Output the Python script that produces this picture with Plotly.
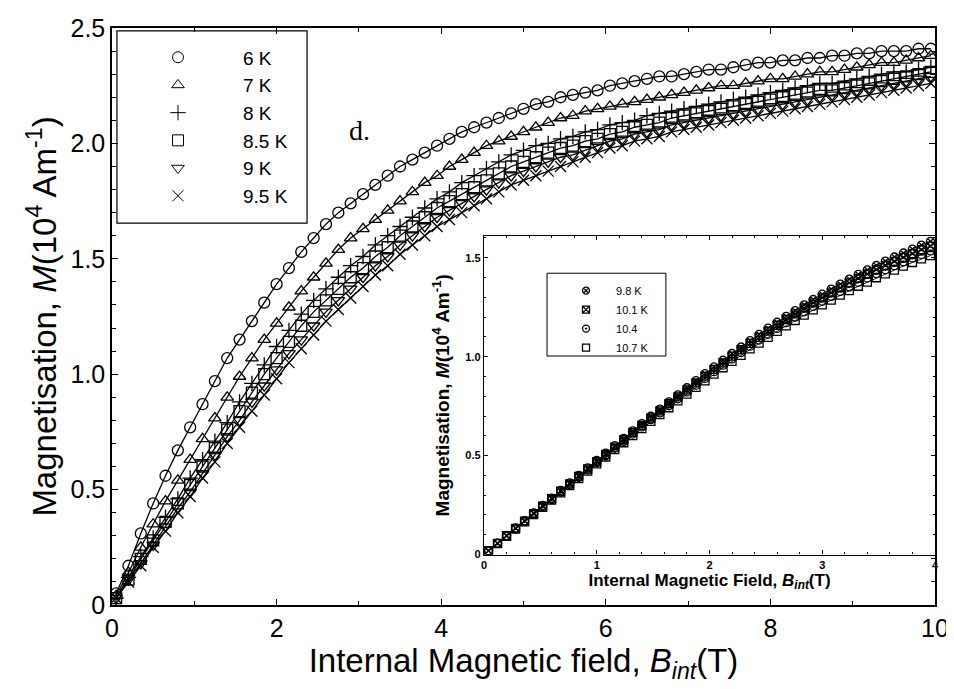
import plotly.graph_objects as go

# ---------------- main panel data ----------------
B_main = [0.05, 0.20, 0.35, 0.50, 0.65, 0.80, 0.95, 1.10, 1.25, 1.40,
          1.55, 1.70, 1.85, 2.00, 2.15, 2.30, 2.45, 2.60, 2.75, 2.90,
          3.05, 3.20, 3.35, 3.50, 3.65, 3.80, 3.95, 4.10, 4.25, 4.40,
          4.55, 4.70, 4.85, 5.00, 5.15, 5.30, 5.45, 5.60, 5.75, 5.90,
          6.05, 6.20, 6.35, 6.50, 6.65, 6.80, 6.95, 7.10, 7.25, 7.40,
          7.55, 7.70, 7.85, 8.00, 8.15, 8.30, 8.45, 8.60, 8.75, 8.90,
          9.05, 9.20, 9.35, 9.50, 9.65, 9.80, 9.95]

M_6K = [0.05, 0.17, 0.31, 0.44, 0.56, 0.67, 0.77, 0.87, 0.97, 1.07,
        1.15, 1.23, 1.31, 1.39, 1.46, 1.53, 1.59, 1.65, 1.70, 1.74,
        1.78, 1.82, 1.86, 1.90, 1.93, 1.96, 1.99, 2.02, 2.05, 2.07,
        2.09, 2.11, 2.13, 2.15, 2.17, 2.18, 2.20, 2.21, 2.22, 2.23,
        2.25, 2.26, 2.27, 2.28, 2.29, 2.29, 2.30, 2.31, 2.32, 2.32,
        2.33, 2.34, 2.35, 2.35, 2.36, 2.36, 2.37, 2.37, 2.38, 2.38,
        2.39, 2.39, 2.40, 2.40, 2.40, 2.41, 2.41]

M_7K = [0.04, 0.14, 0.25, 0.35, 0.45, 0.54, 0.63, 0.72, 0.81, 0.90,
        0.99, 1.07, 1.15, 1.22, 1.29, 1.36, 1.42, 1.48, 1.54, 1.59,
        1.63, 1.67, 1.71, 1.75, 1.79, 1.83, 1.86, 1.90, 1.93, 1.96,
        1.99, 2.01, 2.03, 2.05, 2.07, 2.09, 2.11, 2.12, 2.14, 2.15,
        2.16, 2.17, 2.18, 2.19, 2.20, 2.21, 2.22, 2.23, 2.24, 2.25,
        2.25, 2.26, 2.27, 2.28, 2.28, 2.29, 2.30, 2.31, 2.31, 2.32,
        2.33, 2.34, 2.35, 2.35, 2.36, 2.37, 2.38]

M_8K = [0.03, 0.12, 0.21, 0.29, 0.38, 0.46, 0.55, 0.63, 0.71, 0.79,
        0.88, 0.96, 1.04, 1.12, 1.19, 1.26, 1.32, 1.37, 1.42, 1.47,
        1.51, 1.56, 1.60, 1.64, 1.68, 1.72, 1.76, 1.79, 1.83, 1.86,
        1.89, 1.92, 1.95, 1.97, 1.99, 2.00, 2.02, 2.03, 2.05, 2.06,
        2.08, 2.09, 2.10, 2.12, 2.13, 2.14, 2.15, 2.16, 2.17, 2.18,
        2.19, 2.20, 2.21, 2.22, 2.23, 2.24, 2.25, 2.26, 2.26, 2.27,
        2.28, 2.29, 2.30, 2.31, 2.31, 2.32, 2.33]

M_8_5K = [0.03, 0.11, 0.20, 0.28, 0.36, 0.44, 0.52, 0.60, 0.68, 0.76,
          0.84, 0.92, 1.00, 1.07, 1.14, 1.21, 1.27, 1.32, 1.37, 1.42,
          1.46, 1.51, 1.55, 1.60, 1.64, 1.68, 1.72, 1.75, 1.78, 1.81,
          1.84, 1.87, 1.90, 1.92, 1.94, 1.96, 1.98, 1.99, 2.01, 2.02,
          2.04, 2.05, 2.07, 2.08, 2.09, 2.11, 2.12, 2.13, 2.14, 2.15,
          2.16, 2.17, 2.18, 2.19, 2.20, 2.21, 2.22, 2.23, 2.23, 2.24,
          2.25, 2.26, 2.27, 2.28, 2.29, 2.30, 2.31]

M_9K = [0.03, 0.11, 0.18, 0.26, 0.34, 0.42, 0.49, 0.57, 0.65, 0.73,
        0.80, 0.88, 0.95, 1.02, 1.09, 1.15, 1.21, 1.27, 1.32, 1.37,
        1.42, 1.47, 1.51, 1.56, 1.60, 1.64, 1.68, 1.71, 1.74, 1.77,
        1.80, 1.83, 1.86, 1.88, 1.90, 1.92, 1.94, 1.95, 1.97, 1.99,
        2.01, 2.02, 2.04, 2.05, 2.06, 2.08, 2.09, 2.10, 2.11, 2.12,
        2.13, 2.14, 2.15, 2.16, 2.17, 2.18, 2.19, 2.20, 2.21, 2.22,
        2.23, 2.24, 2.25, 2.26, 2.27, 2.28, 2.29]

M_9_5K = [0.03, 0.10, 0.17, 0.25, 0.32, 0.40, 0.47, 0.55, 0.62, 0.70,
          0.77, 0.84, 0.91, 0.98, 1.05, 1.11, 1.17, 1.23, 1.28, 1.33,
          1.38, 1.43, 1.47, 1.52, 1.56, 1.60, 1.64, 1.67, 1.70, 1.73,
          1.76, 1.79, 1.82, 1.84, 1.86, 1.88, 1.90, 1.92, 1.94, 1.96,
          1.98, 1.99, 2.01, 2.02, 2.03, 2.05, 2.06, 2.07, 2.08, 2.09,
          2.10, 2.11, 2.12, 2.13, 2.14, 2.15, 2.16, 2.17, 2.18, 2.19,
          2.20, 2.21, 2.22, 2.23, 2.24, 2.25, 2.26]

main_labels = ["6 K", "7 K", "8 K", "8.5 K", "9 K", "9.5 K"]
main_series = [M_6K, M_7K, M_8K, M_8_5K, M_9K, M_9_5K]
main_symbols = ["circle-open", "triangle-up-open", "cross-thin-open",
                "square-open", "triangle-down-open", "x-thin-open"]

# ---------------- inset data ----------------
B_inset = [0.04, 0.12, 0.20, 0.28, 0.36, 0.44, 0.52, 0.60, 0.68, 0.76,
           0.84, 0.92, 1.00, 1.08, 1.16, 1.24, 1.32, 1.40, 1.48, 1.56,
           1.64, 1.72, 1.80, 1.88, 1.96, 2.04, 2.12, 2.20, 2.28, 2.36,
           2.44, 2.52, 2.60, 2.68, 2.76, 2.84, 2.92, 3.00, 3.08, 3.16,
           3.24, 3.32, 3.40, 3.48, 3.56, 3.64, 3.72, 3.80, 3.88, 3.96]

M_9_8K = [0.019, 0.057, 0.096, 0.134, 0.171, 0.210, 0.248, 0.285, 0.324, 0.362,
          0.400, 0.438, 0.476, 0.513, 0.550, 0.587, 0.625, 0.662, 0.699, 0.735,
          0.772, 0.807, 0.843, 0.879, 0.914, 0.948, 0.982, 1.016, 1.049, 1.081,
          1.113, 1.144, 1.174, 1.204, 1.233, 1.262, 1.289, 1.316, 1.342, 1.367,
          1.392, 1.416, 1.439, 1.461, 1.483, 1.504, 1.524, 1.544, 1.564, 1.583]

M_10_1K = [0.019, 0.056, 0.095, 0.132, 0.169, 0.207, 0.245, 0.282, 0.320, 0.357,
           0.395, 0.433, 0.470, 0.506, 0.543, 0.580, 0.617, 0.653, 0.690, 0.726,
           0.762, 0.797, 0.832, 0.868, 0.902, 0.936, 0.969, 1.003, 1.035, 1.067,
           1.098, 1.129, 1.159, 1.188, 1.216, 1.245, 1.272, 1.298, 1.323, 1.348,
           1.373, 1.396, 1.418, 1.440, 1.462, 1.482, 1.502, 1.521, 1.541, 1.559]

M_10_4K = [0.019, 0.056, 0.093, 0.130, 0.167, 0.205, 0.241, 0.278, 0.316, 0.353,
           0.389, 0.427, 0.464, 0.500, 0.537, 0.572, 0.609, 0.645, 0.682, 0.716,
           0.752, 0.787, 0.822, 0.856, 0.890, 0.924, 0.957, 0.989, 1.021, 1.053,
           1.084, 1.113, 1.143, 1.172, 1.200, 1.227, 1.254, 1.280, 1.305, 1.330,
           1.353, 1.376, 1.398, 1.420, 1.440, 1.460, 1.480, 1.499, 1.517, 1.535]

M_10_7K = [0.019, 0.055, 0.092, 0.128, 0.165, 0.202, 0.238, 0.275, 0.312, 0.348,
           0.384, 0.422, 0.458, 0.493, 0.530, 0.565, 0.601, 0.636, 0.673, 0.707,
           0.742, 0.777, 0.811, 0.845, 0.878, 0.912, 0.944, 0.976, 1.007, 1.039,
           1.069, 1.098, 1.128, 1.156, 1.183, 1.210, 1.237, 1.262, 1.286, 1.311,
           1.334, 1.356, 1.377, 1.399, 1.419, 1.438, 1.458, 1.476, 1.494, 1.511]

inset_labels = ["9.8 K", "10.1 K", "10.4", "10.7 K"]
inset_series = [M_9_8K, M_10_1K, M_10_4K, M_10_7K]
inset_symbols = ["circle-x-open", "square-x-open", "circle-open-dot", "square-open"]

SANS = "Liberation Sans, Arial"

fig = go.Figure()

# main curves (line + markers)
for lab, ys, sym in zip(main_labels, main_series, main_symbols):
    fig.add_trace(go.Scatter(
        x=B_main, y=ys, mode="lines+markers", showlegend=False,
        line=dict(color="black", width=1.3),
        marker=dict(symbol=sym, size=11, color="black", line=dict(width=1.3, color="black")),
        xaxis="x", yaxis="y"))
# legend entries (markers only)
for lab, sym in zip(main_labels, main_symbols):
    fig.add_trace(go.Scatter(
        x=[None], y=[None], mode="markers", name=lab, legend="legend",
        marker=dict(symbol=sym, size=11, color="black", line=dict(width=1, color="black")),
        xaxis="x", yaxis="y"))

# inset curves
for lab, ys, sym in zip(inset_labels, inset_series, inset_symbols):
    fig.add_trace(go.Scatter(
        x=B_inset, y=ys, mode="lines+markers", showlegend=False,
        line=dict(color="black", width=0.9),
        marker=dict(symbol=sym, size=8, color="black", line=dict(width=1.3, color="black")),
        xaxis="x2", yaxis="y2"))
for lab, sym in zip(inset_labels, inset_symbols):
    fig.add_trace(go.Scatter(
        x=[None], y=[None], mode="markers", name=lab, legend="legend2",
        marker=dict(symbol=sym, size=7, color="black", line=dict(width=1.3, color="black")),
        xaxis="x2", yaxis="y2"))

ix0, ix1 = 0.452, 1.0
iy0, iy1 = 0.0875, 0.6395

# the page adds an 8px body margin, so the figure is 8px smaller and offset
fig.update_layout(
    width=946, height=681,
    margin=dict(l=104, r=19, t=20, b=84),
    paper_bgcolor="white", plot_bgcolor="white",
    xaxis=dict(
        range=[0, 10], domain=[0, 1], automargin=False,
        tickvals=[0, 2, 4, 6, 8, 10], ticks="inside", ticklen=6, tickcolor="black",
        minor=dict(dtick=1, ticks="inside", ticklen=4, tickcolor="black"),
        showline=True, linecolor="black", linewidth=1.5, mirror="allticks",
        showgrid=False, zeroline=False,
        tickfont=dict(family=SANS, size=25, color="black"),
        title=dict(text="Internal Magnetic field, <i>B</i><sub><i>int</i></sub>(T)",
                   font=dict(family=SANS, size=33, color="black"), standoff=4),
    ),
    yaxis=dict(
        range=[0, 2.5], domain=[0, 1], automargin=False,
        tickvals=[0, 0.5, 1.0, 1.5, 2.0, 2.5], ticktext=["0", "0.5", "1.0", "1.5", "2.0", "2.5"],
        ticks="inside", ticklen=6, tickcolor="black",
        minor=dict(dtick=0.1, ticks="inside", ticklen=4, tickcolor="black"),
        showline=True, linecolor="black", linewidth=1.5, mirror="allticks",
        showgrid=False, zeroline=False,
        tickfont=dict(family=SANS, size=25, color="black"),
        title=dict(text="Magnetisation, <i>M</i>(10<sup>4</sup> Am<sup>-1</sup>)",
                   font=dict(family=SANS, size=33, color="black"), standoff=4),
    ),
    xaxis2=dict(
        range=[0, 4], domain=[ix0, ix1], anchor="y2", automargin=False,
        tickvals=[0, 1, 2, 3, 4], ticks="inside", ticklen=4, tickcolor="black",
        minor=dict(dtick=0.2, ticks="inside", ticklen=2, tickcolor="black"),
        showline=True, linecolor="black", linewidth=1.3, mirror="allticks",
        showgrid=False, zeroline=False,
        tickfont=dict(family=SANS, size=11, color="black", weight="bold"),
        title=dict(text="Internal Magnetic Field, <i>B</i><sub><i>int</i></sub>(T)",
                   font=dict(family=SANS, size=17, color="black", weight="bold"), standoff=0),
    ),
    yaxis2=dict(
        range=[0, 1.61], domain=[iy0, iy1], anchor="x2", automargin=False,
        tickvals=[0, 0.5, 1.0, 1.5], ticktext=["0", "0.5", "1.0", "1.5"],
        ticks="inside", ticklen=4, tickcolor="black",
        minor=dict(dtick=0.1, ticks="inside", ticklen=2, tickcolor="black"),
        showline=True, linecolor="black", linewidth=1.3, mirror="allticks",
        showgrid=False, zeroline=False,
        tickfont=dict(family=SANS, size=11, color="black", weight="bold"),
        title=dict(text="Magnetisation, <i>M</i>(10<sup>4</sup> Am<sup>-1</sup>)",
                   font=dict(family=SANS, size=19, color="black", weight="bold"), standoff=10),
    ),
    legend=dict(
        x=0.0012, y=0.982, xanchor="left", yanchor="top",
        bgcolor="rgba(0,0,0,0)", borderwidth=0,
        font=dict(family=SANS, size=19, color="black"),
        itemwidth=120, tracegroupgap=0,
    ),
    legend2=dict(
        x=0.5395, y=0.570, xanchor="left", yanchor="top",
        bgcolor="rgba(0,0,0,0)", borderwidth=0,
        font=dict(family=SANS, size=11, color="black"),
        itemwidth=50, tracegroupgap=0,
    ),
    shapes=[
        # white backing behind the inset
        dict(type="rect", xref="paper", yref="paper", x0=0.375, x1=1.0, y0=0.0, y1=iy1,
             fillcolor="white", line=dict(width=0), layer="below"),
        # main legend box
        dict(type="rect", xref="paper", yref="paper", x0=0.006, x1=0.237, y0=0.662, y1=0.995,
             line=dict(color="black", width=1.2), fillcolor="rgba(0,0,0,0)"),
        # inset legend box
        dict(type="rect", xref="paper", yref="paper", x0=0.5286, x1=0.673, y0=0.4315, y1=0.575,
             line=dict(color="black", width=1), fillcolor="rgba(0,0,0,0)"),
    ],
    annotations=[
        dict(text="d.", xref="paper", yref="paper", x=0.286, y=0.852, showarrow=False,
             font=dict(family="Liberation Serif, Times New Roman", size=28, color="black")),
    ],
)

fig.write_html("out.html")
